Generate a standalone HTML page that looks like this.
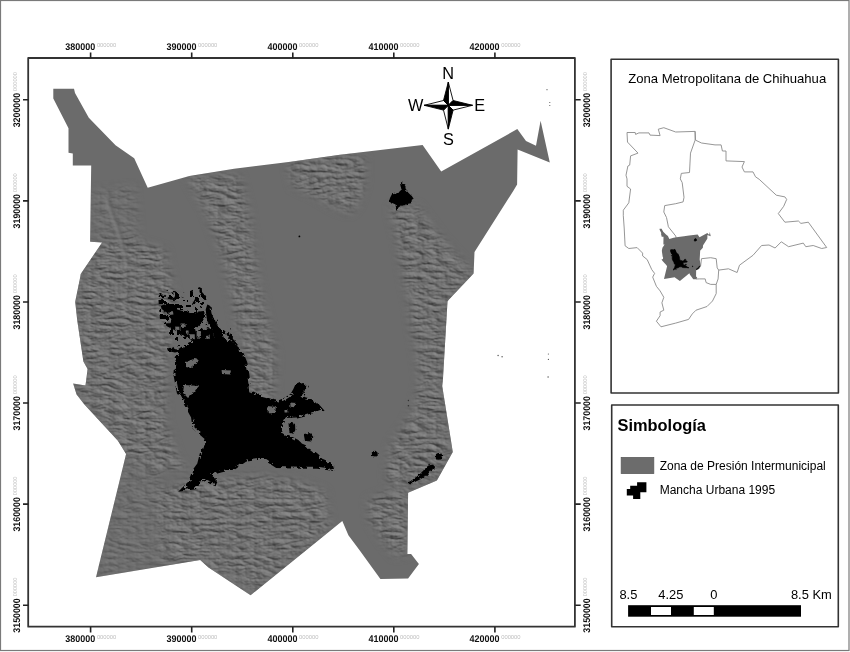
<!DOCTYPE html>
<html><head><meta charset="utf-8"><title>Mapa</title>
<style>
html,body{margin:0;padding:0;background:#fff;}
body{width:850px;height:652px;overflow:hidden;}
svg{display:block;}
text{font-family:"Liberation Sans", Arial, sans-serif;}
</style></head><body>
<svg width="850" height="652" viewBox="0 0 850 652">
<rect x="0" y="0" width="850" height="652" fill="#fff"/>
<rect x="0.5" y="0.5" width="848.5" height="650" fill="none" stroke="#7a7a7a" stroke-width="1.2"/>

<rect x="28.2" y="58.0" width="546.7" height="568.7" fill="#fff" stroke="#333" stroke-width="1.8" stroke-linejoin="round"/>
<defs>
<polygon id="zona" points="53.3,88.8 74.0,88.8 75.0,92.9 88.8,117.7 115.5,145.3 134.2,158.2 147.7,187.7 189.4,175.9 234.1,168.8 290.6,161.8 340.0,154.7 422.6,145.0 441.2,171.5 517.3,129.1 526.0,141.1 536.0,145.7 540.6,120.7 549.8,162.6 517.6,149.4 517.1,184.6 513.4,190.7 474.5,252.1 473.6,273.6 449.0,299.6 447.5,301.2 442.9,380.0 442.2,385.9 452.8,452.0 436.9,480.4 408.1,492.7 407.4,554.1 411.1,554.1 418.9,563.9 408.1,578.6 380.4,579.1 359.4,550.0 348.4,535.2 342.3,520.9 250.6,595.2 208.5,567.6 200.2,560.0 96.0,577.3 126.1,453.9 117.9,440.8 84.4,404.4 76.6,394.5 73.1,383.4 85.5,385.5 87.6,369.0 83.4,361.4 77.2,320.0 75.2,301.7 80.4,276.2 80.7,274.1 102.1,242.4 90.1,241.7 91.2,165.6 72.8,165.6 72.8,153.6 68.5,152.7 68.5,128.2 53.3,98.4"/>
<g id="urb"><polygon points="181.3,349.5 186.9,345.8 194.5,342.0 203.0,340.1 212.4,340.1 221.8,338.2 228.4,341.1 234.0,345.8 237.8,349.5 241.5,353.3 245.3,362.7 247.4,374.7 249.2,392.2 258.6,395.9 266.1,398.1 274.7,401.3 279.0,402.4 285.4,399.7 291.9,395.4 295.1,390.0 297.2,385.2 302.6,383.1 306.4,386.8 303.2,393.8 300.5,396.5 304.0,399.0 310.0,400.5 316.0,404.0 321.0,409.7 314.4,411.5 303.7,414.7 295.1,416.9 287.6,415.8 283.3,420.1 282.2,425.5 281.1,433.0 284.4,435.1 290.8,438.4 297.2,441.6 300.5,445.0 308.1,448.4 317.3,455.8 321.0,460.4 332.1,465.0 332.1,468.7 317.3,466.8 300.8,466.8 276.8,465.9 263.9,457.6 255.9,458.3 245.2,459.8 234.4,467.5 220.6,470.6 209.9,473.6 216.0,479.8 214.5,483.6 202.2,478.2 194.5,487.4 183.8,489.0 189.9,482.8 194.5,470.6 199.1,464.4 202.2,452.1 206.8,438.3 194.5,427.6 193.0,416.9 183.8,400.0 178.8,392.5 175.4,374.5 176.7,357.9"/><polygon points="158.8,295.0 162.0,294.5 165.3,295.5 164.5,297.1 160.0,297.0"/><polygon points="171.2,293.8 173.5,291.2 175.3,291.5 173.0,294.1"/><polygon points="167.6,297.0 170.0,296.5 173.0,298.0 176.0,296.5 179.4,296.8 178.5,298.5 174.0,300.0 170.0,299.5"/><polygon points="181.8,296.5 183.5,296.6 183.5,297.6 181.8,297.6"/><polygon points="191.2,291.2 193.0,291.2 193.0,293.0 191.2,293.0"/><polygon points="195.5,298.2 197.6,299.0 194.0,305.3 191.8,304.5"/><polygon points="200.0,287.6 201.8,288.0 202.0,292.0 205.5,296.0 206.5,300.6 204.5,300.0 200.5,295.0 199.4,291.0"/><polygon points="160.8,306.1 163.4,305.3 166.5,303.4 168.0,304.1 173.4,304.1 175.7,305.7 177.2,309.5 181.8,310.7 185.7,311.0 188.0,311.8 191.0,314.1 195.6,313.3 199.5,311.4 203.3,311.0 205.0,313.3 205.0,317.2 202.5,321.0 201.0,324.8 198.0,327.1 194.9,327.9 195.6,331.0 200.2,331.7 205.0,330.2 205.0,337.9 205.0,344.0 198.0,344.0 193.3,341.0 188.7,338.6 184.1,336.3 180.3,334.0 178.0,331.7 174.9,330.2 171.9,328.7 167.3,326.4 165.0,324.5 166.5,323.3 170.3,323.3 171.9,321.0 170.3,317.2 168.0,313.3 164.2,311.0 161.5,308.7"/><polygon points="207.3,304.5 210.3,305.7 211.5,313.3 214.2,319.5 217.2,324.1 220.3,328.7 222.6,334.0 224.1,338.6 227.0,342.0 215.0,341.0 212.6,330.2 208.0,323.3 206.5,317.2 205.7,309.5"/><polygon points="228.0,331.7 231.0,334.0 235.6,342.5 237.5,346.0 232.6,342.5 228.7,337.9 226.4,334.0"/><polygon points="195.0,341.0 205.0,340.0 215.0,339.0 225.0,341.0 232.0,344.0 237.5,347.0 240.0,350.0 227.2,348.0 210.0,346.0 195.0,346.0"/><polygon points="229.3,328.0 230.7,328.2 230.6,329.6 229.2,329.4"/><polygon points="203.0,330.0 209.0,328.0 212.6,330.2 215.0,341.0 205.0,344.0"/><polygon points="200.5,306.6 201.7,306.8 201.6,308.0 200.4,307.8"/><polygon points="167.0,348.5 172.0,347.6 176.0,349.5 180.0,348.6 181.0,351.0 175.0,352.4 168.0,351.0"/><polygon points="301.5,401.0 310.0,400.5 318.0,404.0 321.0,409.7 314.0,411.5 305.0,410.0"/><polygon points="303.7,434.0 310.0,433.0 313.4,437.0 311.0,441.6 305.0,441.0"/><polygon points="371.8,451.3 375.5,450.8 377.5,452.5 377.8,455.8 375.0,456.6 372.0,456.0"/><polygon points="436.0,454.0 438.5,452.8 441.5,453.5 442.6,456.5 441.0,459.6 437.5,459.8 435.8,457.5"/><polygon points="408.1,482.8 413.5,479.1 419.7,474.2 424.6,469.3 428.3,465.6 433.2,464.4 435.2,468.1 430.7,470.5 427.0,475.5 420.9,479.1 413.5,482.8 409.9,484.5"/><polygon points="329.0,466.0 333.0,465.5 334.0,469.0 330.0,469.5"/><polygon points="401.2,182.1 403.0,183.0 405.2,185.7 405.8,187.3 405.5,189.7 407.9,192.2 410.1,194.6 411.9,195.9 413.7,198.9 411.9,199.5 411.3,203.2 408.2,203.8 405.8,205.1 400.9,205.7 398.4,207.5 396.9,210.9 396.0,209.4 395.6,204.4 392.9,203.2 389.8,202.3 388.9,201.4 390.1,197.7 392.3,193.4 394.7,192.8 397.8,193.7 399.6,191.6 401.5,189.4 400.6,186.3 400.2,184.2"/></g>
<g id="hol"><polygon points="186.0,362.0 196.0,358.0 199.0,361.0 191.0,368.0 186.0,367.0"/><polygon points="184.0,385.0 199.0,386.0 194.0,392.0 188.0,398.0 183.0,393.0"/><polygon points="221.6,370.0 231.0,370.5 230.0,374.5 222.0,374.0"/><polygon points="267.2,406.1 275.8,407.0 275.0,413.7 268.0,413.0"/><polygon points="284.4,409.4 287.6,409.6 287.4,412.6 284.6,412.4"/><polygon points="290.3,402.4 295.1,403.0 294.8,407.2 290.5,406.8"/><polygon points="286.0,418.0 296.0,417.5 300.0,422.0 296.0,430.0 299.0,436.0 290.0,436.0 284.5,432.0 284.0,424.0"/><polygon points="168.5,311.5 173.0,311.2 173.4,314.6 169.0,314.9"/><polygon points="175.2,326.6 179.3,326.8 179.5,330.0 175.4,329.8"/><polygon points="180.5,323.5 185.5,323.4 185.7,327.8 181.0,327.9"/><polygon points="185.9,330.4 188.5,330.5 188.6,333.8 186.0,333.6"/><polygon points="189.6,334.3 194.7,334.2 194.9,339.2 190.0,339.0"/><polygon points="196.6,331.9 200.8,332.0 201.0,337.7 196.7,337.6"/><polygon points="201.0,322.5 204.0,321.5 206.0,325.0 205.5,329.0 202.5,329.0 201.0,326.0"/><polygon points="206.0,336.0 209.5,335.5 210.0,338.5 206.5,339.0"/></g>
</defs>
<use href="#zona" fill="#6b6b6b"/>
<filter id="hs" x="0" y="0" width="850" height="652" filterUnits="userSpaceOnUse" color-interpolation-filters="sRGB"><feTurbulence type="turbulence" baseFrequency="0.055 0.15" numOctaves="4" seed="7" result="n"/><feDiffuseLighting in="n" surfaceScale="1.4" diffuseConstant="1" lighting-color="#fff" result="l"><feDistantLight azimuth="315" elevation="45"/></feDiffuseLighting><feComponentTransfer><feFuncR type="linear" slope="0.45" intercept="0.12"/><feFuncG type="linear" slope="0.45" intercept="0.12"/><feFuncB type="linear" slope="0.45" intercept="0.12"/></feComponentTransfer></filter>
<filter id="bl" x="-20%" y="-20%" width="140%" height="140%"><feGaussianBlur stdDeviation="4"/></filter>
<mask id="tm" maskUnits="userSpaceOnUse" x="0" y="0" width="850" height="652"><g filter="url(#bl)"><polygon fill="#fff" points="187.0,177.0 239.0,176.0 248.0,210.0 253.0,243.0 258.0,281.0 267.0,319.0 276.0,356.0 274.0,394.0 262.0,398.0 249.0,392.0 247.0,368.0 243.0,347.0 236.0,319.0 229.0,281.0 220.0,248.0 206.0,211.0"/><polygon fill="#fff" points="288.0,163.0 340.0,155.0 365.0,158.0 364.0,185.0 357.0,205.0 349.0,213.0 335.0,208.0 315.0,196.0 293.0,186.0"/><polygon fill="#fff" points="390.0,208.0 417.0,206.0 441.0,238.0 472.0,272.0 473.0,274.0 449.0,300.0 443.0,380.0 442.0,386.0 452.0,452.0 437.0,480.0 410.0,490.0 392.0,485.0 386.0,476.0 391.0,444.0 405.0,425.0 415.0,405.0 420.0,380.0 416.0,350.0 413.0,333.0 409.0,303.0 403.0,272.0 398.0,241.0"/><polygon fill="#fff" points="81.0,274.0 102.0,242.0 130.0,240.0 165.0,250.0 175.0,300.0 168.0,360.0 165.0,420.0 178.0,460.0 190.0,470.0 160.0,470.0 126.0,454.0 118.0,441.0 84.0,404.0 77.0,395.0 73.0,383.0 86.0,386.0 88.0,369.0 83.0,361.0 77.0,320.0 75.0,302.0"/><polygon fill="#fff" points="155.0,488.0 200.0,480.0 260.0,476.0 300.0,482.0 325.0,492.0 330.0,528.0 251.0,595.0 209.0,568.0 200.0,560.0 160.0,566.0"/><polygon fill="#888" points="96.0,577.0 126.0,454.0 160.0,470.0 155.0,566.0"/><polygon fill="#fff" points="368.0,500.0 395.0,490.0 408.0,493.0 407.0,554.0 395.0,556.0 382.0,540.0 370.0,520.0"/><polygon fill="#777" points="92.0,190.0 135.0,185.0 140.0,240.0 92.0,240.0"/></g></mask>
<clipPath id="zc"><use href="#zona"/></clipPath>
<filter id="b1" x="-50%" y="-50%" width="200%" height="200%"><feGaussianBlur stdDeviation="0.9"/></filter>
<g clip-path="url(#zc)"><rect x="28" y="58" width="548" height="570" filter="url(#hs)" mask="url(#tm)"/><g filter="url(#b1)" fill="none" stroke-linecap="round"><path d="M106,201 C109,210 113,220 116,228 S122,250 126,264" stroke="#828282" stroke-width="2.4" opacity="0.75"/><path d="M109,201 C112,210 116,220 119,228 S125,250 129,264" stroke="#595959" stroke-width="1.8" opacity="0.65"/></g></g>
<filter id="rg" x="100" y="150" width="360" height="360" filterUnits="userSpaceOnUse"><feTurbulence type="fractalNoise" baseFrequency="0.45" numOctaves="2" seed="3" result="t"/><feDisplacementMap in="SourceGraphic" in2="t" scale="3.2" xChannelSelector="R" yChannelSelector="G"/></filter>
<filter id="sp" x="100" y="150" width="360" height="360" filterUnits="userSpaceOnUse"><feTurbulence type="fractalNoise" baseFrequency="0.17" numOctaves="3" seed="11" result="n"/><feColorMatrix in="n" type="matrix" values="0 0 0 0 0  0 0 0 0 0  0 0 0 0 0  1 0 0 0 0" result="na"/><feComponentTransfer in="na" result="th"><feFuncA type="discrete" tableValues="0 0 0 0 0 1 1 1 1 1"/></feComponentTransfer><feComposite in="th" in2="SourceGraphic" operator="in"/></filter>
<filter id="sp2" x="100" y="150" width="360" height="360" filterUnits="userSpaceOnUse"><feTurbulence type="fractalNoise" baseFrequency="0.2" numOctaves="3" seed="4" result="n"/><feColorMatrix in="n" type="matrix" values="0 0 0 0 0  0 0 0 0 0  0 0 0 0 0  1 0 0 0 0" result="na"/><feComponentTransfer in="na" result="th"><feFuncA type="discrete" tableValues="0 0 0 0 0 0 1 1 1 1"/></feComponentTransfer><feComposite in="th" in2="SourceGraphic" operator="in"/></filter>
<g filter="url(#sp2)" fill="#000"><polygon points="158.0,294.0 168.0,290.0 185.0,293.0 200.0,287.0 207.0,298.0 212.0,310.0 222.0,328.0 238.0,345.0 230.0,350.0 195.0,348.0 180.0,350.0 170.0,335.0 160.0,320.0"/></g>
<g filter="url(#sp)" fill="#000"><polygon points="181.3,349.5 186.9,345.8 194.5,342.0 203.0,340.1 212.4,340.1 221.8,338.2 228.4,341.1 234.0,345.8 237.8,349.5 241.5,353.3 245.3,362.7 247.4,374.7 249.2,392.2 258.6,395.9 266.1,398.1 274.7,401.3 279.0,402.4 285.4,399.7 291.9,395.4 295.1,390.0 297.2,385.2 302.6,383.1 306.4,386.8 303.2,393.8 300.5,396.5 304.0,399.0 310.0,400.5 316.0,404.0 321.0,409.7 314.4,411.5 303.7,414.7 295.1,416.9 287.6,415.8 283.3,420.1 282.2,425.5 281.1,433.0 284.4,435.1 290.8,438.4 297.2,441.6 300.5,445.0 308.1,448.4 317.3,455.8 321.0,460.4 332.1,465.0 332.1,468.7 317.3,466.8 300.8,466.8 276.8,465.9 263.9,457.6 255.9,458.3 245.2,459.8 234.4,467.5 220.6,470.6 209.9,473.6 216.0,479.8 214.5,483.6 202.2,478.2 194.5,487.4 183.8,489.0 189.9,482.8 194.5,470.6 199.1,464.4 202.2,452.1 206.8,438.3 194.5,427.6 193.0,416.9 183.8,400.0 178.8,392.5 175.4,374.5 176.7,357.9" fill="none" stroke="#000" stroke-width="4"/></g>
<g filter="url(#rg)"><use href="#urb" fill="#000"/><use href="#hol" fill="#6b6b6b"/><polygon points="288.5,423.5 292.0,422.6 295.0,424.0 295.3,430.0 293.5,433.8 289.5,433.0" fill="#000"/></g>
<g fill="#555"><circle cx="547" cy="89.7" r="0.6"/><circle cx="549.8" cy="102.5" r="0.6"/><circle cx="299.4" cy="236.4" r="0.9" fill="#000"/><circle cx="549.8" cy="105.5" r="0.6"/><circle cx="498.1" cy="355.5" r="0.7"/><circle cx="408.4" cy="400.5" r="0.7" fill="#333"/><circle cx="408.4" cy="405.8" r="0.8" fill="#333"/><circle cx="502.1" cy="356.7" r="0.7"/><circle cx="548.4" cy="354" r="0.6"/><circle cx="548.4" cy="359.4" r="0.6"/><circle cx="548.1" cy="377" r="0.7"/></g>
<g stroke="#000" stroke-width="0.9" stroke-linejoin="miter"><polygon points="448.3,82.1 453.1,100.5 448.3,105.3" fill="#fff"/><polygon points="472.5,105.3 453.1,110.1 448.3,105.3" fill="#fff"/><polygon points="448.3,129.1 443.5,110.1 448.3,105.3" fill="#fff"/><polygon points="424.2,105.3 443.5,100.5 448.3,105.3" fill="#fff"/><polygon points="448.3,82.1 443.5,100.5 448.3,105.3" fill="#000"/><polygon points="472.5,105.3 453.1,100.5 448.3,105.3" fill="#000"/><polygon points="448.3,129.1 453.1,110.1 448.3,105.3" fill="#000"/><polygon points="424.2,105.3 443.5,110.1 448.3,105.3" fill="#000"/></g>
<g font-size="16.3" fill="#000" text-anchor="middle"><text x="448.2" y="78.8">N</text><text x="415.8" y="111.3">W</text><text x="479.8" y="111.3">E</text><text x="448.5" y="145.0">S</text></g>
<path d="M90.6,58.2V52.5M90.6,627V632.5M191.7,58.2V52.5M191.7,627V632.5M292.8,58.2V52.5M292.8,627V632.5M393.8,58.2V52.5M393.8,627V632.5M494.9,58.2V52.5M494.9,627V632.5M28.5,99.8H23M575.2,99.8H580.7M28.5,200.9H23M575.2,200.9H580.7M28.5,302.0H23M575.2,302.0H580.7M28.5,403.0H23M575.2,403.0H580.7M28.5,504.1H23M575.2,504.1H580.7M28.5,605.2H23M575.2,605.2H580.7" stroke="#222" stroke-width="1.6" fill="none"/>
<text x="65.3" y="49.8" font-size="9.7" font-weight="bold" fill="#111" textLength="30.0" lengthAdjust="spacingAndGlyphs" style="text-rendering:geometricPrecision">380000</text>
<text x="96.9" y="47.1" font-size="5.8" fill="#bdbdbd">000000</text>
<text x="65.3" y="642.1" font-size="9.7" font-weight="bold" fill="#111" textLength="30.0" lengthAdjust="spacingAndGlyphs" style="text-rendering:geometricPrecision">380000</text>
<text x="96.9" y="639.4" font-size="5.8" fill="#bdbdbd">000000</text>
<text x="166.4" y="49.8" font-size="9.7" font-weight="bold" fill="#111" textLength="30.0" lengthAdjust="spacingAndGlyphs" style="text-rendering:geometricPrecision">390000</text>
<text x="198.0" y="47.1" font-size="5.8" fill="#bdbdbd">000000</text>
<text x="166.4" y="642.1" font-size="9.7" font-weight="bold" fill="#111" textLength="30.0" lengthAdjust="spacingAndGlyphs" style="text-rendering:geometricPrecision">390000</text>
<text x="198.0" y="639.4" font-size="5.8" fill="#bdbdbd">000000</text>
<text x="267.5" y="49.8" font-size="9.7" font-weight="bold" fill="#111" textLength="30.0" lengthAdjust="spacingAndGlyphs" style="text-rendering:geometricPrecision">400000</text>
<text x="299.1" y="47.1" font-size="5.8" fill="#bdbdbd">000000</text>
<text x="267.5" y="642.1" font-size="9.7" font-weight="bold" fill="#111" textLength="30.0" lengthAdjust="spacingAndGlyphs" style="text-rendering:geometricPrecision">400000</text>
<text x="299.1" y="639.4" font-size="5.8" fill="#bdbdbd">000000</text>
<text x="368.5" y="49.8" font-size="9.7" font-weight="bold" fill="#111" textLength="30.0" lengthAdjust="spacingAndGlyphs" style="text-rendering:geometricPrecision">410000</text>
<text x="400.1" y="47.1" font-size="5.8" fill="#bdbdbd">000000</text>
<text x="368.5" y="642.1" font-size="9.7" font-weight="bold" fill="#111" textLength="30.0" lengthAdjust="spacingAndGlyphs" style="text-rendering:geometricPrecision">410000</text>
<text x="400.1" y="639.4" font-size="5.8" fill="#bdbdbd">000000</text>
<text x="469.6" y="49.8" font-size="9.7" font-weight="bold" fill="#111" textLength="30.0" lengthAdjust="spacingAndGlyphs" style="text-rendering:geometricPrecision">420000</text>
<text x="501.2" y="47.1" font-size="5.8" fill="#bdbdbd">000000</text>
<text x="469.6" y="642.1" font-size="9.7" font-weight="bold" fill="#111" textLength="30.0" lengthAdjust="spacingAndGlyphs" style="text-rendering:geometricPrecision">420000</text>
<text x="501.2" y="639.4" font-size="5.8" fill="#bdbdbd">000000</text>
<text transform="translate(19.9,127.3) rotate(-90)" font-size="9.7" font-weight="bold" fill="#111" textLength="34.4" lengthAdjust="spacingAndGlyphs" style="text-rendering:geometricPrecision">3200000</text>
<text transform="translate(17.0,90.9) rotate(-90)" font-size="5.6" fill="#bdbdbd">000000</text>
<text transform="translate(590.0,127.3) rotate(-90)" font-size="9.7" font-weight="bold" fill="#111" textLength="34.4" lengthAdjust="spacingAndGlyphs" style="text-rendering:geometricPrecision">3200000</text>
<text transform="translate(587.1,90.9) rotate(-90)" font-size="5.6" fill="#bdbdbd">000000</text>
<text transform="translate(19.9,228.4) rotate(-90)" font-size="9.7" font-weight="bold" fill="#111" textLength="34.4" lengthAdjust="spacingAndGlyphs" style="text-rendering:geometricPrecision">3190000</text>
<text transform="translate(17.0,192.0) rotate(-90)" font-size="5.6" fill="#bdbdbd">000000</text>
<text transform="translate(590.0,228.4) rotate(-90)" font-size="9.7" font-weight="bold" fill="#111" textLength="34.4" lengthAdjust="spacingAndGlyphs" style="text-rendering:geometricPrecision">3190000</text>
<text transform="translate(587.1,192.0) rotate(-90)" font-size="5.6" fill="#bdbdbd">000000</text>
<text transform="translate(19.9,329.5) rotate(-90)" font-size="9.7" font-weight="bold" fill="#111" textLength="34.4" lengthAdjust="spacingAndGlyphs" style="text-rendering:geometricPrecision">3180000</text>
<text transform="translate(17.0,293.1) rotate(-90)" font-size="5.6" fill="#bdbdbd">000000</text>
<text transform="translate(590.0,329.5) rotate(-90)" font-size="9.7" font-weight="bold" fill="#111" textLength="34.4" lengthAdjust="spacingAndGlyphs" style="text-rendering:geometricPrecision">3180000</text>
<text transform="translate(587.1,293.1) rotate(-90)" font-size="5.6" fill="#bdbdbd">000000</text>
<text transform="translate(19.9,430.5) rotate(-90)" font-size="9.7" font-weight="bold" fill="#111" textLength="34.4" lengthAdjust="spacingAndGlyphs" style="text-rendering:geometricPrecision">3170000</text>
<text transform="translate(17.0,394.1) rotate(-90)" font-size="5.6" fill="#bdbdbd">000000</text>
<text transform="translate(590.0,430.5) rotate(-90)" font-size="9.7" font-weight="bold" fill="#111" textLength="34.4" lengthAdjust="spacingAndGlyphs" style="text-rendering:geometricPrecision">3170000</text>
<text transform="translate(587.1,394.1) rotate(-90)" font-size="5.6" fill="#bdbdbd">000000</text>
<text transform="translate(19.9,531.6) rotate(-90)" font-size="9.7" font-weight="bold" fill="#111" textLength="34.4" lengthAdjust="spacingAndGlyphs" style="text-rendering:geometricPrecision">3160000</text>
<text transform="translate(17.0,495.2) rotate(-90)" font-size="5.6" fill="#bdbdbd">000000</text>
<text transform="translate(590.0,531.6) rotate(-90)" font-size="9.7" font-weight="bold" fill="#111" textLength="34.4" lengthAdjust="spacingAndGlyphs" style="text-rendering:geometricPrecision">3160000</text>
<text transform="translate(587.1,495.2) rotate(-90)" font-size="5.6" fill="#bdbdbd">000000</text>
<text transform="translate(19.9,632.7) rotate(-90)" font-size="9.7" font-weight="bold" fill="#111" textLength="34.4" lengthAdjust="spacingAndGlyphs" style="text-rendering:geometricPrecision">3150000</text>
<text transform="translate(17.0,596.3) rotate(-90)" font-size="5.6" fill="#bdbdbd">000000</text>
<text transform="translate(590.0,632.7) rotate(-90)" font-size="9.7" font-weight="bold" fill="#111" textLength="34.4" lengthAdjust="spacingAndGlyphs" style="text-rendering:geometricPrecision">3150000</text>
<text transform="translate(587.1,596.3) rotate(-90)" font-size="5.6" fill="#bdbdbd">000000</text>
<rect x="611.1" y="59.3" width="227.3" height="333.7" fill="#fff" stroke="#333" stroke-width="1.6" stroke-linejoin="round"/>
<text x="628.2" y="83.1" font-size="13.1" fill="#000">Zona Metropolitana de Chihuahua</text>
<g fill="none" stroke="#8a8a8a" stroke-width="0.9"><polygon points="627.0,132.5 635.2,132.5 635.6,134.4 638.9,132.9 649.0,132.9 650.0,135.1 660.1,135.6 658.3,129.2 663.8,127.7 675.7,132.0 695.1,131.4 695.6,140.2 701.5,143.0 715.0,144.9 721.1,144.9 722.4,151.0 726.0,151.0 726.0,160.9 744.4,161.6 742.0,167.0 744.4,171.9 753.0,171.9 755.5,176.8 759.2,179.3 776.3,195.2 784.9,196.9 786.7,199.4 783.7,206.3 778.3,213.6 784.9,222.2 798.4,221.0 800.9,223.4 808.3,222.2 826.7,247.5 821.7,248.5 813.2,245.5 805.8,246.7 803.3,243.1 788.6,246.7 781.3,241.8 775.1,248.0 769.0,245.0 761.6,245.5 753.0,255.3 739.5,265.2 737.1,272.5 728.5,268.8 718.7,270.1 718.1,278.9 716.2,284.4 716.2,293.6 712.5,301.0 707.0,306.5 696.0,310.2 692.3,313.9 688.6,319.4 675.7,323.1 661.0,326.8 656.4,321.2 660.1,315.7 660.1,312.0 663.8,310.2 661.9,302.8 663.8,297.3 660.1,290.9 656.4,286.3 652.7,277.1 654.6,273.4 651.8,269.7 647.2,259.6 642.6,255.9 642.6,253.1 637.1,247.6 628.8,248.5 625.1,245.8 624.2,228.0 623.3,215.7 623.3,210.2 628.8,202.8 630.6,189.0 627.0,186.3 627.0,178.9 626.0,175.2 627.9,166.0 629.7,165.1 630.6,155.9 638.0,153.1 627.5,142.1"/><polyline points="695.1,131.4 695.1,140.2 690.5,153.1 689.5,172.5 681.3,173.4 680.3,178.9 682.2,182.6 684.0,197.3 683.1,201.9 675.7,203.7 664.7,205.6 663.8,212.0 666.5,217.5 668.4,226.8 675.7,236.0 676.7,240.0"/><polyline points="696.0,279.0 699.7,278.9 705.2,278.9 706.1,282.6 710.7,284.4 716.2,284.4"/><polyline points="700.6,266.0 701.5,258.7 710.7,257.7 716.2,258.7 717.2,267.9 718.7,270.1"/></g>
<g transform="translate(654.1,219.6) scale(0.103)"><use href="#zona" fill="#6b6b6b"/><use href="#urb" fill="#000" stroke="#000" stroke-width="6" stroke-linejoin="round"/><polygon points="158.0,294.0 168.0,290.0 185.0,293.0 200.0,287.0 207.0,298.0 212.0,310.0 222.0,328.0 238.0,345.0 230.0,350.0 195.0,348.0 180.0,350.0 170.0,335.0 160.0,320.0" fill="#000"/><circle cx="401" cy="196" r="11" fill="#000"/></g>
<rect x="611.7" y="405.0" width="226.6" height="221.7" fill="#fff" stroke="#333" stroke-width="1.6" stroke-linejoin="round"/>
<text x="617.5" y="430.6" font-size="16.4" font-weight="bold" fill="#000">Simbología</text>
<rect x="621.2" y="457.5" width="32.6" height="16" fill="#6c6c6c" stroke="#5a5a5a" stroke-width="0.8"/>
<text x="659.7" y="470.3" font-size="12" fill="#000">Zona de Presión Intermunicipal</text>
<path d="M637.1,482.3H646.4V492.2H640.3V498.9H633.1V495.5H626.8V489H630.2V485.8H637.1Z" fill="#000"/>
<text x="659.7" y="493.8" font-size="12" fill="#000">Mancha Urbana 1995</text>
<g font-size="12.9" fill="#000">
<text x="619.4" y="599.4">8.5</text><text x="658.3" y="599.4">4.25</text><text x="710.2" y="599.4">0</text><text x="790.9" y="599.4">8.5 Km</text>
</g>
<rect x="628.1" y="605.2" width="172.9" height="11.5" fill="#000"/>
<rect x="651" y="607" width="20" height="8" fill="#fff"/><rect x="693.8" y="607" width="20" height="8" fill="#fff"/>
</svg></body></html>
